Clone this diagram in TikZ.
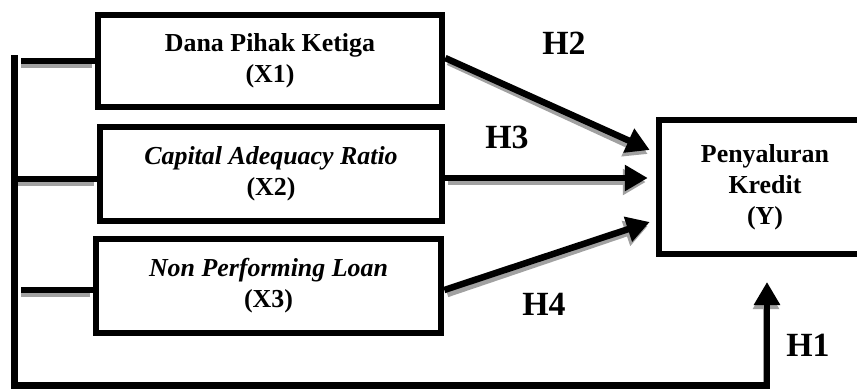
\documentclass[tikz,border=0pt]{standalone}
\usepackage{fontspec}
\setmainfont{Liberation Serif}
\usetikzlibrary{arrows.meta,calc}
\begin{document}
\begin{tikzpicture}[x=1bp,y=-1bp,
  box/.style={draw, line width=6.5bp, align=center, inner sep=0pt,
    font=\fontsize{26}{31}\selectfont\bfseries},
  hlab/.style={font=\fontsize{34}{40}\selectfont\bfseries, inner sep=0pt},
  conn/.style={line width=6.5bp, line join=miter},
  shad/.style={line width=6.5bp, draw=black!37},
  arr/.style={-{Triangle[length=23bp,width=25bp]}}
]
\useasboundingbox (0,0) rectangle (857,390);
\clip (0,0) rectangle (857,390);

% boxes
\node[box, minimum width=344bp, minimum height=92bp] (x1) at (270,61) {Dana Pihak Ketiga\\(X1)};
\node[box, minimum width=342bp, minimum height=94bp] (x2) at (271,174) {{\itshape Capital Adequacy Ratio}\\(X2)};
\node[box, minimum width=345bp, minimum height=94bp] (x3) at (268.5,286) {{\itshape Non Performing Loan}\\(X3)};
\node[box, minimum width=212bp, minimum height=134bp] (y) at (765,187) {Penyaluran\\Kredit\\(Y)};

% labels
\node[hlab] (h2) at (564,43) {H2};
\node[hlab] (h3) at (507,137) {H3};
\node[hlab] (h4) at (544,304) {H4};
\node[hlab] (h1) at (808,345) {H1};

% coordinates
\coordinate (vtop) at (14.5,55);
\coordinate (corner) at (14.5,385.5);
\coordinate (h1base) at (767,385.5);
\coordinate (h1tip) at (767,282);
\coordinate (b1) at (21,61);
\coordinate (b2) at (17,179);
\coordinate (b3) at (21,290);
\coordinate (e1) at (b1 -| x1.west);
\coordinate (e2) at (b2 -| x2.west);
\coordinate (e3) at (b3 -| x3.west);
\coordinate (t1) at ($(y.west)+(-6,-37)$);
\coordinate (t2) at ($(y.west)+(-8,-9)$);
\coordinate (t3) at ($(y.west)+(-6,35)$);
\coordinate (s1) at ($(x1.east)+(0,-3)$);
\coordinate (s2) at (x2.east |- t2);
\coordinate (s3) at ($(x3.east)+(0,4)$);

% shadows
\draw[shad] ([shift={(0,4)}]b1) -- ([shift={(-3,4)}]e1);
\draw[shad] ([shift={(0,4)}]b2) -- ([shift={(-3,4)}]e2);
\draw[shad] ([shift={(0,4)}]b3) -- ([shift={(-3,4)}]e3);
\draw[shad, arr, fill=black!37] ([shift={(3,4)}]s1) -- ([shift={(-2,4)}]t1);
\draw[shad, arr, fill=black!37] ([shift={(3,4)}]s2) -- ([shift={(-2,4)}]t2);
\draw[shad, arr, fill=black!37] ([shift={(3,4)}]s3) -- ([shift={(-2,4)}]t3);
\draw[shad, arr, fill=black!37] ([shift={(-1,0)}]h1base) -- ([shift={(-1,4)}]h1tip);

% connectors
\draw[conn] (b1) -- (e1);
\draw[conn] (b2) -- (e2);
\draw[conn] (b3) -- (e3);
\draw[conn, arr] (vtop) -- (corner) -- (h1base) -- (h1tip);
\draw[conn, arr] (s1) -- (t1);
\draw[conn, arr] (s2) -- (t2);
\draw[conn, arr] (s3) -- (t3);
\end{tikzpicture}
\end{document}
